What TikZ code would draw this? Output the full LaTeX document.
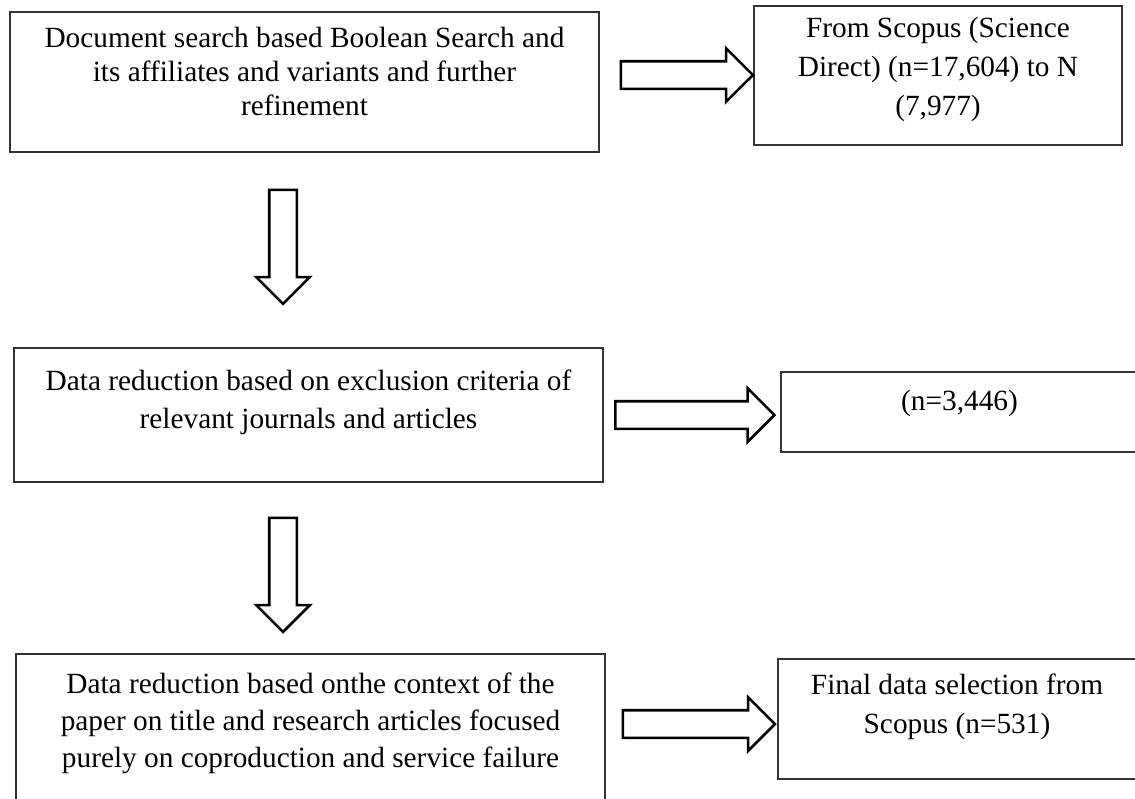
\documentclass[tikz,border=0pt]{standalone}
\usepackage{fontspec}
\setmainfont{Liberation Serif}
\usetikzlibrary{shapes.arrows}
\definecolor{Frame}{HTML}{333333}
\tikzset{
flowbox/.style={draw=Frame, line width=1.2pt, inner sep=0pt, outer sep=0pt, anchor=north west},
blockarrow/.style={single arrow, draw=black, line width=2.6pt, fill=white, inner sep=12.5pt, single arrow head extend=13pt, single arrow tip angle=90},
downarrow/.style={blockarrow, shape border rotate=270}
}
\newcommand{\flowtext}[4]{\parbox[t][#1][t]{#2}{\centering\rule{0pt}{#3}#4}}

\begin{document}
\begin{tikzpicture}[x=1pt, y=-1pt]
  \useasboundingbox (0,0) rectangle (1135,798);
  \node[flowbox, font=\fontsize{29.3}{34}\selectfont] (search) at (10,12) {\flowtext{140pt}{589pt}{35pt}{Document search based Boolean Search and\\its affiliates and variants and further\\refinement}};
  \node[flowbox, font=\fontsize{29.3}{39}\selectfont] (scopus) at (754,6) {\flowtext{139pt}{368pt}{31pt}{From Scopus (Science\\Direct) (n=17,604) to N\\(7,977)}};
  \node[flowbox, font=\fontsize{29.3}{38}\selectfont] (exclusion) at (14,348) {\flowtext{134pt}{589pt}{42pt}{Data reduction based on exclusion criteria of\\relevant journals and articles}};
  \node[flowbox, font=\fontsize{29.3}{38}\selectfont] (reduced) at (781,372) {\flowtext{80pt}{357pt}{38pt}{(n=3,446)}};
  \node[flowbox, font=\fontsize{29.3}{37}\selectfont] (context) at (16,654) {\flowtext{160pt}{589pt}{39pt}{Data reduction based onthe context of the\\paper on title and research articles focused\\purely on coproduction and service failure}};
  \node[flowbox, font=\fontsize{29.3}{39}\selectfont] (final) at (778,659) {\flowtext{120pt}{358pt}{35pt}{Final data selection from\\Scopus (n=531)}};
  \node[blockarrow, minimum height=132pt] (toscopus) at (680,75) {};
  \node[blockarrow, minimum height=159pt] (toreduced) at (688,415) {};
  \node[blockarrow, minimum height=152pt] (tofinal) at (692,724) {};
  \node[downarrow, minimum height=114pt] (down1) at (283,240) {};
  \node[downarrow, minimum height=114pt] (down2) at (283,568) {};
\end{tikzpicture}
\end{document}
